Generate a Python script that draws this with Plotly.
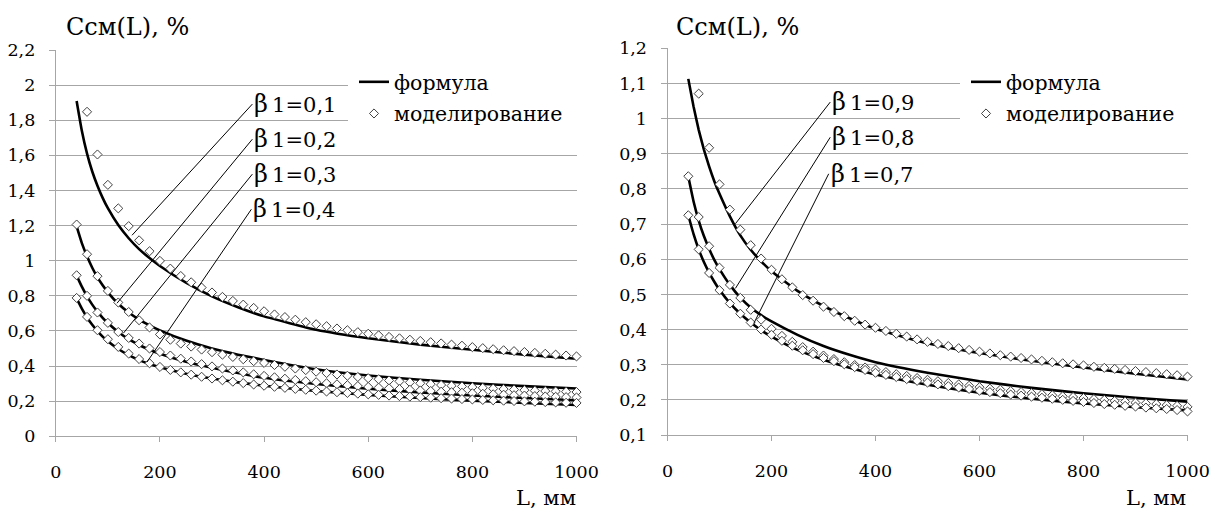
import plotly.graph_objects as go

# ---------------- data ----------------
L_line = [40, 50, 60, 70, 80, 90, 100, 120, 140, 160, 180, 200, 250, 300, 350, 400,
          500, 600, 700, 800, 900, 1000]

# left panel, formula
f_b01 = [1.91, 1.74, 1.61, 1.508, 1.427, 1.358, 1.299, 1.203, 1.128, 1.066, 1.015, 0.97,
         0.875, 0.797, 0.735, 0.683, 0.607, 0.558, 0.522, 0.493, 0.465, 0.442]
f_b02 = [1.195, 1.10, 1.025, 0.96, 0.905, 0.86, 0.82, 0.755, 0.705, 0.665, 0.632, 0.603,
         0.545, 0.50, 0.465, 0.435, 0.382, 0.346, 0.322, 0.302, 0.286, 0.272]
f_b03 = [0.915, 0.852, 0.797, 0.75, 0.71, 0.675, 0.645, 0.594, 0.553, 0.52, 0.493, 0.47,
         0.424, 0.39, 0.36, 0.333, 0.298, 0.271, 0.25, 0.232, 0.218, 0.205]
f_b04 = [0.785, 0.727, 0.677, 0.635, 0.599, 0.568, 0.541, 0.497, 0.462, 0.434, 0.412, 0.393,
         0.356, 0.329, 0.307, 0.288, 0.258, 0.236, 0.218, 0.203, 0.19, 0.178]

# right panel, formula
f_b09 = [1.113, 1.035, 0.968, 0.912, 0.864, 0.822, 0.786, 0.722, 0.668, 0.627, 0.594, 0.566,
         0.51, 0.467, 0.432, 0.402, 0.361, 0.333, 0.311, 0.292, 0.274, 0.258]
f_b08 = [0.835, 0.765, 0.71, 0.666, 0.63, 0.598, 0.572, 0.527, 0.491, 0.463, 0.441, 0.423,
         0.385, 0.353, 0.328, 0.307, 0.277, 0.253, 0.234, 0.219, 0.206, 0.195]
f_b07 = [0.725, 0.672, 0.628, 0.592, 0.562, 0.536, 0.513, 0.475, 0.445, 0.42, 0.398, 0.38,
         0.342, 0.314, 0.291, 0.272, 0.243, 0.22, 0.203, 0.19, 0.179, 0.17]

# simulation grids
L_sim40 = list(range(40, 1001, 20))
L_sim60 = list(range(60, 1001, 20))

# left panel, simulation
s_b01 = [1.848, 1.605, 1.432, 1.298, 1.197, 1.116, 1.054, 0.999, 0.955, 0.913, 0.877, 0.847,
         0.819, 0.794, 0.771, 0.750, 0.731, 0.712, 0.694, 0.679, 0.664, 0.650, 0.638, 0.627,
         0.614, 0.604, 0.593, 0.584, 0.575, 0.566, 0.558, 0.550, 0.543, 0.536, 0.529, 0.522,
         0.516, 0.508, 0.502, 0.496, 0.490, 0.485, 0.480, 0.475, 0.470, 0.465, 0.460, 0.455]
s_b02 = [1.206, 1.037, 0.912, 0.828, 0.762, 0.708, 0.661, 0.620, 0.580, 0.550, 0.528, 0.511,
         0.494, 0.479, 0.465, 0.452, 0.439, 0.428, 0.418, 0.406, 0.396, 0.386, 0.377, 0.368,
         0.360, 0.352, 0.345, 0.338, 0.331, 0.325, 0.318, 0.313, 0.307, 0.302, 0.297, 0.292,
         0.288, 0.284, 0.280, 0.276, 0.272, 0.269, 0.266, 0.263, 0.260, 0.258, 0.256, 0.254,
         0.252]
s_b03 = [0.917, 0.800, 0.705, 0.646, 0.594, 0.560, 0.528, 0.500, 0.480, 0.460, 0.442, 0.426,
         0.411, 0.398, 0.386, 0.375, 0.364, 0.353, 0.344, 0.336, 0.328, 0.321, 0.314, 0.308,
         0.302, 0.296, 0.291, 0.286, 0.281, 0.277, 0.273, 0.269, 0.265, 0.261, 0.258, 0.254,
         0.251, 0.248, 0.245, 0.242, 0.239, 0.237, 0.234, 0.232, 0.229, 0.227, 0.225, 0.223,
         0.221]
s_b04 = [0.788, 0.680, 0.604, 0.553, 0.509, 0.471, 0.440, 0.416, 0.395, 0.378, 0.364, 0.351,
         0.339, 0.329, 0.319, 0.311, 0.303, 0.295, 0.288, 0.282, 0.276, 0.270, 0.265, 0.260,
         0.255, 0.251, 0.247, 0.243, 0.239, 0.236, 0.232, 0.229, 0.226, 0.223, 0.220, 0.217,
         0.215, 0.212, 0.210, 0.207, 0.205, 0.203, 0.201, 0.199, 0.197, 0.195, 0.193, 0.191,
         0.190]

# right panel, simulation
s_b09 = [1.071, 0.917, 0.813, 0.741, 0.684, 0.640, 0.602, 0.570, 0.543, 0.520, 0.498, 0.482,
         0.465, 0.450, 0.438, 0.425, 0.414, 0.405, 0.396, 0.388, 0.380, 0.372, 0.365, 0.359,
         0.353, 0.347, 0.342, 0.337, 0.332, 0.327, 0.323, 0.319, 0.315, 0.311, 0.307, 0.304,
         0.301, 0.298, 0.294, 0.291, 0.288, 0.285, 0.282, 0.279, 0.276, 0.273, 0.270, 0.266]
s_b08 = [0.836, 0.720, 0.637, 0.576, 0.527, 0.490, 0.456, 0.428, 0.402, 0.382, 0.365, 0.350,
         0.337, 0.326, 0.316, 0.307, 0.299, 0.292, 0.286, 0.279, 0.273, 0.268, 0.262, 0.257,
         0.253, 0.248, 0.244, 0.240, 0.236, 0.232, 0.229, 0.225, 0.222, 0.219, 0.216, 0.213,
         0.210, 0.208, 0.205, 0.202, 0.200, 0.197, 0.195, 0.192, 0.190, 0.188, 0.185, 0.183,
         0.180]
s_b07 = [0.725, 0.628, 0.561, 0.512, 0.474, 0.445, 0.420, 0.400, 0.385, 0.368, 0.354, 0.341,
         0.330, 0.319, 0.310, 0.301, 0.293, 0.285, 0.277, 0.271, 0.265, 0.259, 0.254, 0.249,
         0.244, 0.239, 0.235, 0.231, 0.226, 0.222, 0.219, 0.215, 0.212, 0.209, 0.206, 0.203,
         0.200, 0.197, 0.194, 0.191, 0.188, 0.186, 0.183, 0.181, 0.178, 0.176, 0.174, 0.171,
         0.167]

# ticks
x_ticks = [0, 200, 400, 600, 800, 1000]
x_text = ["0", "200", "400", "600", "800", "1000"]
yL_ticks = [0, 0.2, 0.4, 0.6, 0.8, 1.0, 1.2, 1.4, 1.6, 1.8, 2.0, 2.2]
yL_text = ["0", "0,2", "0,4", "0,6", "0,8", "1", "1,2", "1,4", "1,6", "1,8", "2", "2,2"]
yR_ticks = [0.1, 0.2, 0.3, 0.4, 0.5, 0.6, 0.7, 0.8, 0.9, 1.0, 1.1, 1.2]
yR_text = ["0,1", "0,2", "0,3", "0,4", "0,5", "0,6", "0,7", "0,8", "0,9", "1", "1,1", "1,2"]

# labels with leader lines (label anchor L, value; target L, value)
left_labels = ["0,1", "0,2", "0,3", "0,4"]
left_lab_L = [377.5, 377.5, 377.5, 375.6]
left_lab_v = [1.892, 1.692, 1.493, 1.293]
left_end_L = [146.4, 117.6, 129.7, 175.2]
left_end_v = [1.145, 0.758, 0.587, 0.423]
right_labels = ["0,9", "0,8", "0,7"]
right_lab_L = [313, 313, 310]
right_lab_v = [1.047, 0.947, 0.843]
right_end_L = [130.6, 130.6, 165.8]
right_end_v = [0.701, 0.517, 0.417]

# ---------------- figure ----------------
W, H = 1215, 513
FONT = "DejaVu Serif"
GRID = "#a6a6a6"


def px(v):
    return v / W


def py(v):
    return 1 - v / H


fig = go.Figure()

line_style = dict(color="black", width=2.6, shape="spline", smoothing=0.4)
mk_style = dict(symbol="diamond", size=7, color="white", line=dict(color="#404040", width=1))

for i, yv in enumerate([f_b01, f_b02, f_b03, f_b04]):
    fig.add_trace(go.Scatter(x=L_line, y=yv, mode="lines", line=line_style, name="формула",
                             legendgroup="f1", showlegend=(i == 0), legend="legend",
                             xaxis="x", yaxis="y", hoverinfo="skip"))
for i, yv in enumerate([f_b09, f_b08, f_b07]):
    fig.add_trace(go.Scatter(x=L_line, y=yv, mode="lines", line=line_style, name="формула",
                             legendgroup="f2", showlegend=(i == 0), legend="legend2",
                             xaxis="x2", yaxis="y2", hoverinfo="skip"))

for i, (xv, yv) in enumerate([(L_sim60, s_b01), (L_sim40, s_b02), (L_sim40, s_b03), (L_sim40, s_b04)]):
    fig.add_trace(go.Scatter(x=xv, y=yv, mode="markers", marker=mk_style, name="моделирование",
                             legendgroup="m1", showlegend=(i == 0), legend="legend",
                             cliponaxis=False, xaxis="x", yaxis="y", hoverinfo="skip"))
for i, (xv, yv) in enumerate([(L_sim60, s_b09), (L_sim40, s_b08), (L_sim40, s_b07)]):
    fig.add_trace(go.Scatter(x=xv, y=yv, mode="markers", marker=mk_style, name="моделирование",
                             legendgroup="m2", showlegend=(i == 0), legend="legend2",
                             cliponaxis=False, xaxis="x2", yaxis="y2", hoverinfo="skip"))

shapes = []
annotations = []


def add_labels(labels, lab_L, lab_v, end_L, end_v, xr, yr):
    for t, a, b, c, d in zip(labels, lab_L, lab_v, end_L, end_v):
        shapes.append(dict(type="line", xref=xr, yref=yr, x0=a, y0=b, x1=c, y1=d,
                           line=dict(color="black", width=1), layer="above"))
        annotations.append(dict(
            xref=xr, yref=yr, x=a, y=b, xanchor="left", yanchor="middle", xshift=0,
            showarrow=False,
            text='<span style="font-size:24px">β</span>\u20091=' + t,
            font=dict(family=FONT, size=21, color="black")))


add_labels(left_labels, left_lab_L, left_lab_v, left_end_L, left_end_v, "x", "y")
add_labels(right_labels, right_lab_L, right_lab_v, right_end_L, right_end_v, "x2", "y2")

# white backgrounds behind the legends (hide the gridlines, as in the original)
for x0, x1 in [(348, 580), (960, 1192)]:
    shapes.append(dict(type="rect", xref="paper", yref="paper", x0=px(x0), x1=px(x1),
                       y0=py(136), y1=py(64), fillcolor="white", line=dict(width=0),
                       layer="above"))

# axis titles
for x0 in [63.5, 673.5]:
    annotations.append(dict(xref="paper", yref="paper", x=px(x0), y=py(27), xanchor="left",
                            yanchor="middle", showarrow=False, text="Cсм(L), %",
                            font=dict(family=FONT, size=24, color="black")))
for x1 in [578, 1188]:
    annotations.append(dict(xref="paper", yref="paper", x=px(x1), y=py(498), xanchor="right",
                            yanchor="middle", showarrow=False, text="L, мм",
                            font=dict(family=FONT, size=21, color="black")))

tickfont = dict(family=FONT, size=17.5, color="black")
xcommon = dict(range=[0, 1000], tickmode="array", tickvals=x_ticks, ticktext=x_text,
               showgrid=False, zeroline=False, showline=True, linecolor=GRID, linewidth=1,
               ticks="outside", ticklen=5, tickcolor=GRID, tickfont=tickfont,
               ticklabelstandoff=15, fixedrange=True, automargin=False)
ycommon = dict(tickmode="array", showgrid=True, gridcolor=GRID, gridwidth=1, zeroline=False,
               showline=True, linecolor=GRID, linewidth=1, ticks="outside", ticklen=6,
               tickcolor=GRID, tickfont=tickfont, ticklabelstandoff=10, fixedrange=True,
               automargin=False)

legend_common = dict(xanchor="left", yanchor="top", bgcolor="rgba(255,255,255,0)",
                     font=dict(family=FONT, size=20.5, color="black"), itemwidth=30,
                     borderwidth=0, traceorder="grouped", tracegroupgap=2)

fig.update_layout(
    width=W, height=H, autosize=False,
    margin=dict(l=0, r=0, t=0, b=0, pad=0),
    paper_bgcolor="white", plot_bgcolor="white",
    font=dict(family=FONT, color="black"),
    xaxis=dict(domain=[px(55.8), px(576.5)], anchor="y", **xcommon),
    yaxis=dict(domain=[py(436.3), py(50)], anchor="x", range=[0, 2.2],
               tickvals=yL_ticks, ticktext=yL_text, **ycommon),
    xaxis2=dict(domain=[px(667.5), px(1187.5)], anchor="y2", **xcommon),
    yaxis2=dict(domain=[py(435), py(48.3)], anchor="x2", range=[0.1, 1.2],
                tickvals=yR_ticks, ticktext=yR_text, **ycommon),
    legend=dict(x=px(354), y=py(62), **legend_common),
    legend2=dict(x=px(966), y=py(62), **legend_common),
    shapes=shapes,
    annotations=annotations,
    showlegend=True,
)

fig.write_html("out.html",
               config={"displayModeBar": False, "staticPlot": True},
               post_script="document.body.style.margin='0px';document.body.style.padding='0px';")
